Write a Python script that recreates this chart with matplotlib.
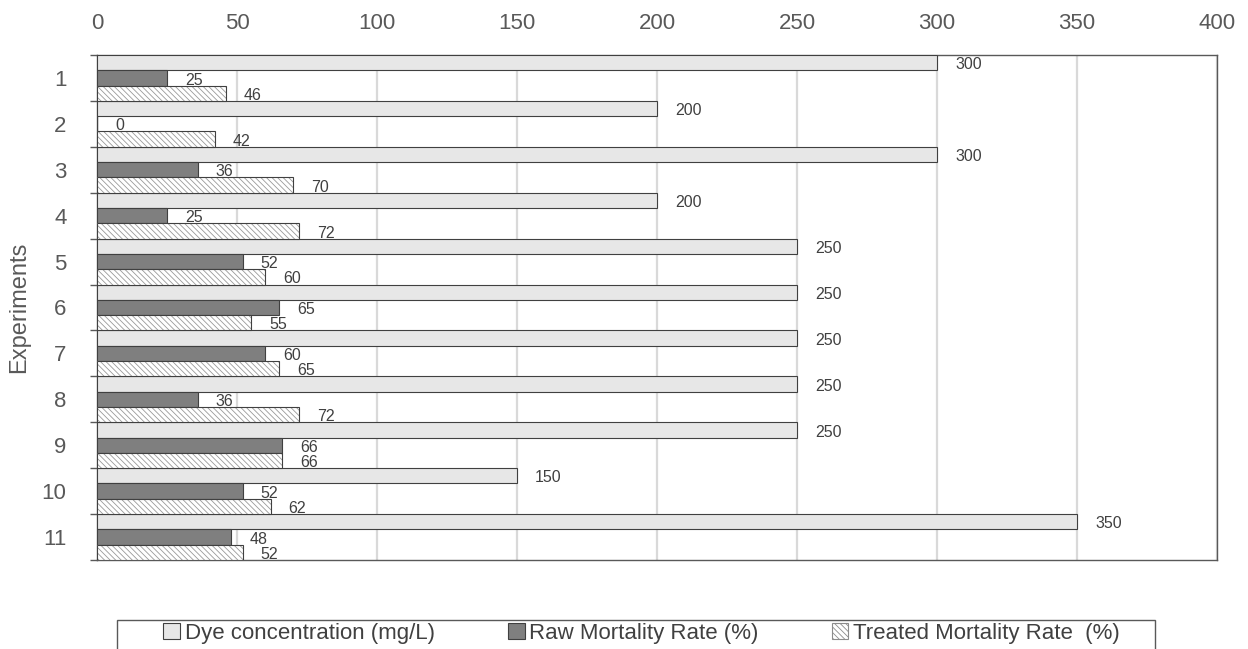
import numpy as np
import matplotlib
matplotlib.use("Agg")
import matplotlib.pyplot as plt
from matplotlib.patches import Patch, Rectangle

experiments = ["1", "2", "3", "4", "5", "6", "7", "8", "9", "10", "11"]
dye_conc = [300, 200, 300, 200, 250, 250, 250, 250, 250, 150, 350]
raw_mortality = [25, 0, 36, 25, 52, 65, 60, 36, 66, 52, 48]
treated_mortality = [46, 42, 70, 72, 60, 55, 65, 72, 66, 62, 52]

series_names = ["Dye concentration (mg/L)", "Raw Mortality Rate (%)", "Treated Mortality Rate  (%)"]

plt.rcParams["font.family"] = ["Liberation Sans", "DejaVu Sans"]
plt.rcParams["hatch.linewidth"] = 0.6

fig = plt.figure(figsize=(12.48, 6.49), dpi=100)
ax = fig.add_axes([0.0777, 0.1371, 0.8975, 0.7782])

y = np.arange(len(experiments))
h = 1 / 3.0
edge = "#404040"
text_col = "#404040"

dye_bars = ax.barh(y - h, dye_conc, height=h, color="#e7e7e7", edgecolor=edge, linewidth=0.8, zorder=3)
raw_bars = ax.barh(y, raw_mortality, height=h, color="#7f7f7f", edgecolor=edge, linewidth=0.8, zorder=3)
# hatched bars: gray hatch first, then a dark outline on top
treated_bars = ax.barh(y + h, treated_mortality, height=h, color="white", edgecolor="#999999",
                       hatch="\\\\\\\\\\\\", linewidth=0, zorder=3)
ax.barh(y + h, treated_mortality, height=h, fill=False, edgecolor=edge, linewidth=0.8, zorder=4)

for bars, vals in [(dye_bars, dye_conc), (raw_bars, raw_mortality), (treated_bars, treated_mortality)]:
    for b, v in zip(bars, vals):
        ax.annotate(str(v), xy=(v, b.get_y() + b.get_height() / 2), xytext=(13, -1.5),
                    textcoords="offset points", ha="left", va="center",
                    fontsize=11.5, color=text_col, zorder=5)

ax.set_xlim(0, 400)
ax.set_ylim(len(experiments) - 0.5, -0.5)
ax.xaxis.tick_top()
ax.set_xticks(np.arange(0, 401, 50))
ax.tick_params(axis="x", length=0, pad=15, labelsize=16, labelcolor="#595959")
ax.set_yticks(y)
ax.set_yticklabels(experiments)
ax.tick_params(axis="y", which="major", length=0, pad=22, labelsize=16, labelcolor="#595959")
ax.set_yticks(np.arange(-0.5, len(experiments), 1), minor=True)
ax.tick_params(axis="y", which="minor", length=5, width=1, color="#595959")

ax.grid(axis="x", color="#d9d9d9", linewidth=1.6, zorder=0)
ax.set_axisbelow(True)
for side in ["top", "right", "bottom", "left"]:
    ax.spines[side].set_color("#595959")
    ax.spines[side].set_linewidth(1.0)

ax.set_ylabel("Experiments", fontsize=17, color="#595959", labelpad=8)

# legend box runs off the bottom edge, so draw the frame by hand
fig.patches.append(Rectangle((0.0938, -0.05), 0.8317, 0.0947, transform=fig.transFigure,
                             fill=False, edgecolor="#595959", linewidth=1.0))

handles = [
    Patch(facecolor="#e7e7e7", edgecolor=edge, linewidth=0.8),
    Patch(facecolor="#7f7f7f", edgecolor=edge, linewidth=0.8),
    Patch(facecolor="white", edgecolor="#8c8c8c", hatch="\\\\\\\\\\\\", linewidth=0.8),
]
leg = fig.legend(handles, series_names, loc="center", bbox_to_anchor=(0.514, 0.024),
                 ncol=3, frameon=False, borderaxespad=0,
                 handlelength=0.75, handleheight=0.75, handletextpad=0.2, columnspacing=3.3,
                 borderpad=0, prop={"family": ["Liberation Sans Narrow", "Liberation Sans"], "size": 16})
for t in leg.get_texts():
    t.set_color("#404040")

fig.savefig("out.png", dpi=100)
